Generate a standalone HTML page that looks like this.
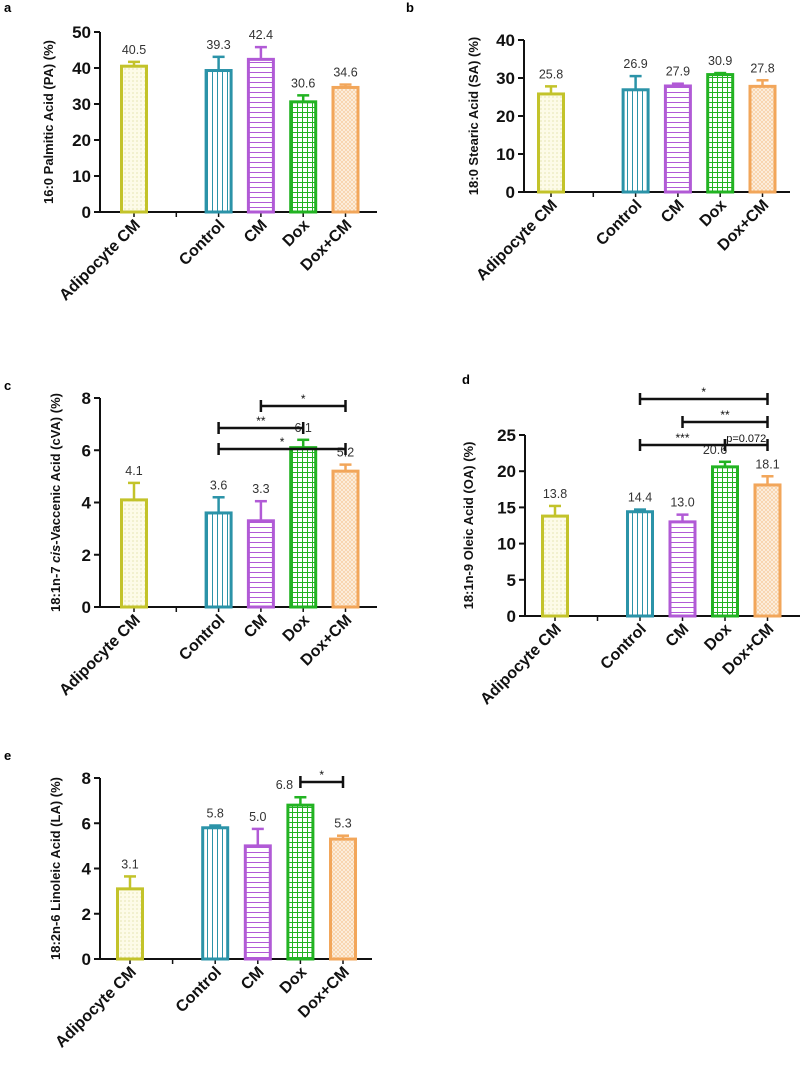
<!DOCTYPE html>
<html><head><meta charset="utf-8"><style>
body{margin:0;background:#fff}
svg{display:block;font-family:"Liberation Sans",Arial,sans-serif}
</style></head><body>
<svg id="chart" width="800" height="1068" viewBox="0 0 800 1068" xmlns="http://www.w3.org/2000/svg">
<defs>
<pattern id="p0" width="4" height="4" patternUnits="userSpaceOnUse"><rect width="4" height="4" fill="#fdfbe8"/><circle cx="1" cy="1" r="0.6" fill="#d8d890"/></pattern>
<pattern id="p1" width="5" height="5" patternUnits="userSpaceOnUse"><rect width="5" height="5" fill="#fff"/><line x1="2.5" y1="0" x2="2.5" y2="5" stroke="#2b93a8" stroke-width="1"/></pattern>
<pattern id="p2" width="5" height="5" patternUnits="userSpaceOnUse"><rect width="5" height="5" fill="#fff"/><line x1="0" y1="2.5" x2="5" y2="2.5" stroke="#b15ad6" stroke-width="1"/></pattern>
<pattern id="p3" width="5" height="5" patternUnits="userSpaceOnUse"><rect width="5" height="5" fill="#fff"/><path d="M2.5 0V5M0 2.5H5" stroke="#22b322" stroke-width="1"/></pattern>
<pattern id="p4" width="4" height="4" patternUnits="userSpaceOnUse"><rect width="4" height="4" fill="#fdf0e0"/><path d="M0 4L4 0M0 0L4 4" stroke="#f5c896" stroke-width="0.6"/></pattern>
</defs>
</svg>
<script>
const categories=["Adipocyte CM","Control","CM","Dox","Dox+CM"];
const slots=[0,2,3,4,5];
const valsA=[40.5,39.3,42.4,30.6,34.6]; const errA=[1.2,3.8,3.4,1.8,0.8];
const valsB=[25.8,26.9,27.9,30.9,27.8]; const errB=[2.0,3.6,0.6,0.4,1.6];
const valsC=[4.1,3.6,3.3,6.1,5.2]; const errC=[0.65,0.6,0.75,0.3,0.25];
const valsD=[13.8,14.4,13.0,20.6,18.1]; const errD=[1.4,0.3,1.0,0.7,1.2];
const valsE=[3.1,5.8,5.0,6.8,5.3]; const errE=[0.55,0.1,0.75,0.35,0.15];
const ticksA=[0,10,20,30,40,50], ticksB=[0,10,20,30,40], ticksC=[0,2,4,6,8], ticksD=[0,5,10,15,20,25], ticksE=[0,2,4,6,8];
const colors=["#c3c32a","#2b93a8","#b15ad6","#22b322","#f2a65a"];
const svg=document.getElementById('chart');
const NS="http://www.w3.org/2000/svg";
function mk(tag,attrs,parent,txt){const e=document.createElementNS(NS,tag);for(const k in attrs)e.setAttribute(k,attrs[k]);if(txt!==undefined)e.textContent=txt;(parent||svg).appendChild(e);return e;}
function panel(p){
  const g=mk('g',{});
  
  
  const ymax=p.ticks[p.ticks.length-1];
  const y=v=>p.y0-(v/ymax)*(p.y0-p.yTop);
  const x=i=>p.x0+(i-0)*p.step;
  const lt=mk('text',{x:p.lx,y:p.ly,'font-size':13,'font-weight':'bold'},g,p.letter);
  
  
  const ya=mk('line',{x1:p.ax,y1:p.yTop,x2:p.ax,y2:p.y0,stroke:'#111','stroke-width':2},g);
  
  
  const xa=mk('line',{x1:p.ax,y1:p.y0,x2:p.axEnd,y2:p.y0,stroke:'#111','stroke-width':2},g);
  
  
  p.ticks.forEach(t=>{
    mk('line',{x1:p.ax-6,y1:y(t),x2:p.ax,y2:y(t),stroke:'#111','stroke-width':2},g);
    const tl=mk('text',{x:p.ax-9,y:y(t)+6,'font-size':17,'font-weight':'bold','text-anchor':'end',fill:'#111'},g,t);
    
    
  });
  for(let s=0;s<6;s++) mk('line',{x1:x(s),y1:p.y0,x2:x(s),y2:p.y0+5,stroke:'#111','stroke-width':1.5},g);
  const yt=mk('text',{transform:`translate(${p.tx},${(p.yTop+p.y0)/2}) rotate(-90)`,'font-size':13,'font-weight':'bold','text-anchor':'middle',fill:'#111'},g);
  
  
  p.title.forEach(part=>{mk('tspan',{'font-style':part[1]?'italic':'normal'},yt,part[0]);});
  const bw=25;
  p.vals.forEach((v,i)=>{
    const cx=x(slots[i]);
    const bar=mk('rect',{x:cx-bw/2,y:y(v),width:bw,height:p.y0-y(v),fill:`url(#p${i})`,stroke:colors[i],'stroke-width':3},g);
    
    
    const et=y(v+p.err[i]);
    mk('line',{x1:cx,y1:y(v),x2:cx,y2:et,stroke:colors[i],'stroke-width':2.5},g);
    mk('line',{x1:cx-6,y1:et,x2:cx+6,y2:et,stroke:colors[i],'stroke-width':2.5},g);
    const dx=(p.shift&&p.shift[i])||0;
    const vl=mk('text',{x:cx+dx,y:et-8,'font-size':12.5,'text-anchor':'middle',fill:'#333'},g,v.toFixed(1));
    
    
    const cl=mk('text',{transform:`translate(${cx+7},${p.y0+14}) rotate(-45)`,'font-size':16,'font-weight':'bold','text-anchor':'end',fill:'#111'},g,categories[i]);
    
    
  });
  (p.sig||[]).forEach(s=>{
    const x1=x(slots[s[0]]),x2=x(slots[s[1]]);
    const sg=mk('g',{},g);
    
    
    mk('line',{x1:x1,y1:s[2],x2:x2,y2:s[2],stroke:'#111','stroke-width':2.5},sg);
    mk('line',{x1:x1,y1:s[2]-6,x2:x1,y2:s[2]+6,stroke:'#111','stroke-width':2.5},sg);
    mk('line',{x1:x2,y1:s[2]-6,x2:x2,y2:s[2]+6,stroke:'#111','stroke-width':2.5},sg);
    mk('text',{x:(x1+x2)/2,y:s[2]-3,'font-size':s[3].length>3?11:12,'text-anchor':'middle',fill:'#111'},sg,s[3]);
  });
}
panel({letter:'a',lx:4,ly:12,ax:100,axEnd:377,yTop:32,y0:212,x0:134,step:42.3,ticks:ticksA,vals:valsA,err:errA,tx:53,title:[["16:0 Palmitic Acid (PA) (%)",0]]});
panel({letter:'b',lx:406,ly:12,ax:524,axEnd:790,yTop:40,y0:192,x0:551,step:42.3,ticks:ticksB,vals:valsB,err:errB,tx:478,title:[["18:0 Stearic Acid (SA) (%)",0]]});
panel({letter:'c',lx:4,ly:390,ax:100,axEnd:377,yTop:398,y0:607,x0:134,step:42.3,ticks:ticksC,vals:valsC,err:errC,tx:60,title:[["18:1n-7 ",0],["cis",1],["-Vaccenic Acid (cVA) (%)",0]],
  sig:[[2,4,406,"*"],[1,3,428,"**"],[1,4,449,"*"]]});
panel({letter:'d',lx:462,ly:384,ax:525,axEnd:800,yTop:435,y0:616,x0:555,step:42.5,ticks:ticksD,vals:valsD,err:errD,tx:473,title:[["18:1n-9 Oleic Acid (OA) (%)",0]],
  sig:[[1,4,399,"*"],[2,4,422,"**"],[1,3,445,"***"],[3,4,445,"p=0.072"]],shift:[0,0,0,-10,0]});
panel({letter:'e',lx:4,ly:760,ax:100,axEnd:372,yTop:778,y0:959,x0:130,step:42.6,ticks:ticksE,vals:valsE,err:errE,tx:60,title:[["18:2n-6 Linoleic Acid (LA) (%)",0]],
  sig:[[3,4,782,"*"]],shift:[0,0,0,-16,0]});
</script>
</body></html>
